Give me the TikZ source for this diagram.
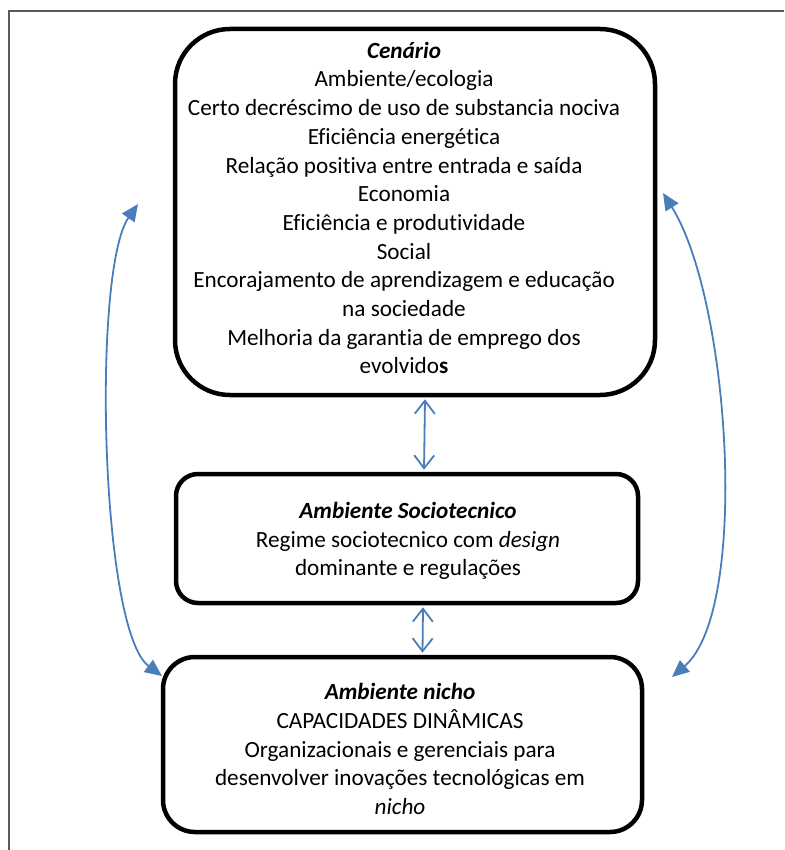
\documentclass[tikz,border=0pt]{standalone}
\usepackage{fontspec}
\setmainfont{Carlito}[Ligatures=NoCommon]
\usetikzlibrary{arrows.meta}
\definecolor{arrowblue}{HTML}{4A7EBB}
\definecolor{framegray}{HTML}{5A5A5A}
\begin{document}
\begin{tikzpicture}[x=1pt,y=-1pt,
  boxstyle/.style={draw=black,line width=4.5pt,rectangle,inner sep=0pt},
  txt/.style={align=center,font=\fontsize{23.2}{28.7}\selectfont,inner sep=0pt},
  vlink/.style={draw=arrowblue,line width=1.8pt,{Straight Barb[length=13pt,width=20pt]}-{Straight Barb[length=13pt,width=20pt]}},
  clink/.style={draw=arrowblue,line width=1.8pt,{Triangle[length=17pt,width=15pt]}-{Triangle[length=17pt,width=15pt]}}]
\useasboundingbox (0,0) rectangle (784,850);
\draw[framegray,line width=1.3pt] (9,850) -- (9,11) -- (784,11);
% boxes
\node[boxstyle,rounded corners=55pt,minimum width=480pt,minimum height=366pt] (b1) at (415,212) {};
\node[boxstyle,rounded corners=22pt,minimum width=462pt,minimum height=129pt] (b2) at (407,538.5) {};
\node[boxstyle,rounded corners=32pt,minimum width=479pt,minimum height=175pt] (b3) at (402.5,744.5) {};
% texts
\node[txt] (t1) at (404,208) {\textbf{\textit{Cenário}}\\Ambiente/ecologia\\Certo decréscimo de uso de substancia nociva\\Eficiência energética\\Relação positiva entre entrada e saída\\Economia\\Eficiência e produtividade\\Social\\Encorajamento de aprendizagem e educação\\na sociedade\\Melhoria da garantia de emprego dos\\evolvido\textbf{s}};
\node[txt] (t2) at (408,541) {\textbf{\textit{Ambiente Sociotecnico}}\\Regime sociotecnico com \textit{design}\\dominante e regulações};
\node[txt] (t3) at (400,749) {\textbf{\textit{Ambiente nicho}}\\CAPACIDADES DINÂMICAS\\Organizacionais e gerenciais para\\desenvolver inovações tecnológicas em\\\textit{nicho}};
% connectors
\draw[vlink] ([xshift=10pt,yshift=-2pt]b1.south) -- ([xshift=17pt,yshift=2pt]b2.north);
\draw[vlink] ([xshift=16pt,yshift=-2pt]b2.south) -- ([xshift=20pt,yshift=2pt]b3.north);
\coordinate (lt) at (138,204);
\coordinate (lb) at (162,676);
\coordinate (rt) at (663,193);
\coordinate (rb) at (672,677);
\draw[clink] (lt) .. controls (92,270) and (100,630) .. (lb);
\draw[clink] (rt) .. controls (730,300) and (750,610) .. (rb);
\end{tikzpicture}
\end{document}
